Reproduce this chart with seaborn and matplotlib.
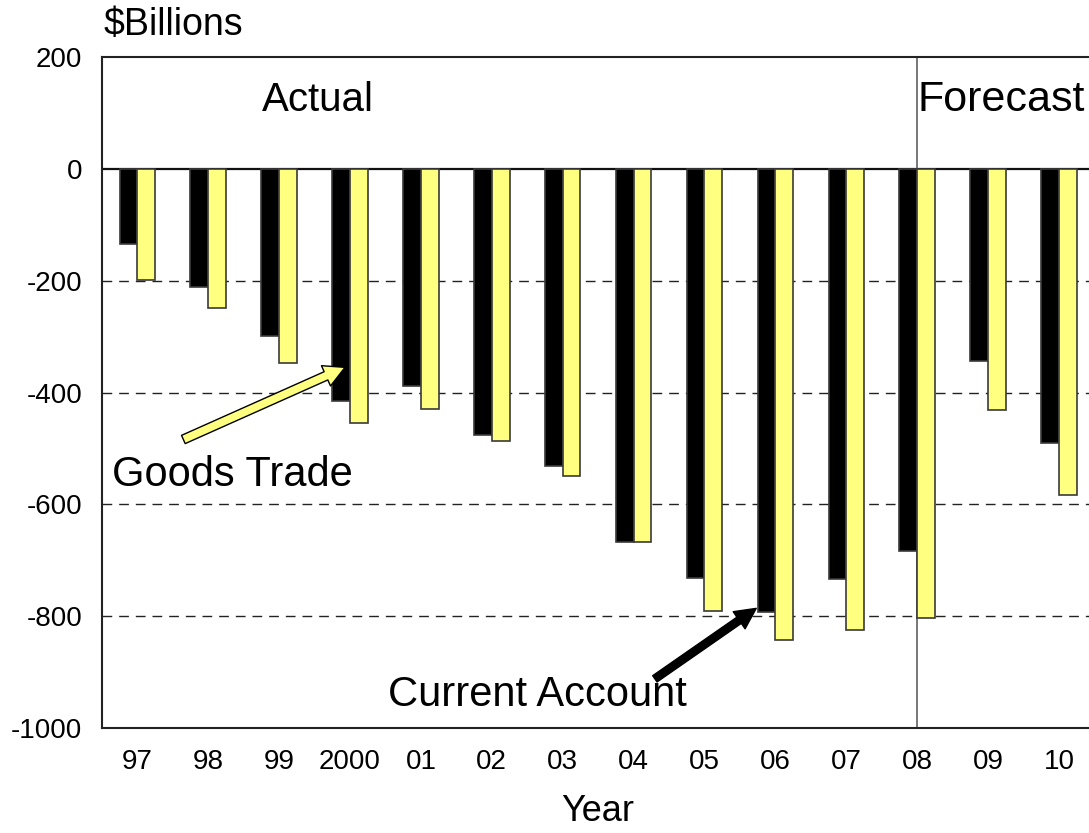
import numpy as np
import pandas as pd
import matplotlib
matplotlib.use("Agg")
import matplotlib.pyplot as plt
import seaborn as sns
from matplotlib import font_manager

years = ["97", "98", "99", "2000", "01", "02", "03", "04", "05", "06", "07", "08", "09", "10"]
current_account = [-135, -211, -299, -416, -388, -476, -531, -668, -732, -793, -734, -684, -343, -491]
goods_trade = [-199, -248, -348, -455, -430, -486, -550, -668, -791, -843, -824, -803, -432, -584]
series_names = ["Current Account", "Goods Trade"]
series_colors = ["#000000", "#FFFF80"]
y_ticks = [200, 0, -200, -400, -600, -800, -1000]

df = pd.DataFrame({
    "Year": years * 2,
    "Value": current_account + goods_trade,
    "Series": [series_names[0]] * len(years) + [series_names[1]] * len(years),
})

sns.set_style("white")
plt.rcParams["font.family"] = ["Liberation Sans", "DejaVu Sans"]
plt.rcParams["text.color"] = "black"
plt.rcParams["xtick.color"] = "black"
plt.rcParams["ytick.color"] = "black"
plt.rcParams["axes.labelcolor"] = "black"

installed = {f.name for f in font_manager.fontManager.ttflist}
narrow = "Liberation Sans Narrow" if "Liberation Sans Narrow" in installed else "Liberation Sans"

fig = plt.figure(figsize=(10.89, 8.33), dpi=100)
ax = fig.add_axes([0.0935, 0.126, 0.9115, 0.8056])

sns.barplot(data=df, x="Year", y="Value", hue="Series", order=years,
            hue_order=series_names, palette=series_colors, width=0.5, gap=0,
            saturation=1, edgecolor="#3a3a3a", linewidth=1.2, legend=False,
            ax=ax, zorder=3)

ax.set_xlim(-0.5, len(years) - 0.5)
ax.set_ylim(-1000, 200)
ax.set_yticks(y_ticks)
ax.set_yticklabels([str(v) for v in y_ticks], fontsize=20)
ax.tick_params(axis="y", length=0, pad=14)
ax.tick_params(axis="x", length=0, pad=15)
for lab in ax.get_xticklabels():
    lab.set_fontfamily([narrow, "DejaVu Sans"])
    lab.set_fontsize(22 if narrow != "Liberation Sans" else 20)
ax.set_xlabel("Year", fontsize=26, labelpad=14,
              fontfamily=[narrow, "DejaVu Sans"])
ax.set_ylabel("")

for v in [-200, -400, -600, -800]:
    ax.axhline(v, color="#222222", lw=1.0, ls=(0, (7, 5)), zorder=1)
ax.axhline(0, color="#111111", lw=1.6, zorder=2)
ax.axvline(11, color="#606060", lw=1.2, zorder=2)

for side in ["left", "bottom", "top"]:
    ax.spines[side].set_visible(True)
    ax.spines[side].set_color("#222222")
    ax.spines[side].set_linewidth(1.5)
ax.spines["right"].set_visible(False)

ax.text(2.55, 123, "Actual", fontsize=29, ha="center", va="center")
ax.text(11.0, 123, "Forecast", fontsize=31, ha="left", va="center")
ax.text(-0.36, -548, "Goods Trade", fontsize=30, ha="left", va="center")
ax.text(3.54, -941, "Current Account", fontsize=30, ha="left", va="center")
fig.text(104 / 1089, 1 - 25 / 833, "$Billions", fontsize=27, ha="left", va="center")

ax.annotate("", xy=(2.93, -355), xytext=(0.65, -484),
            arrowprops=dict(arrowstyle="simple,head_length=1.5,head_width=1.6,tail_width=0.65",
                            fc="#FFFF80", ec="#000000", lw=1.0, shrinkA=0, shrinkB=0),
            zorder=5)
ax.annotate("", xy=(8.73, -786), xytext=(7.3, -912),
            arrowprops=dict(arrowstyle="simple,head_length=1.5,head_width=1.5,tail_width=0.55",
                            fc="#000000", ec="#000000", lw=1.0, shrinkA=0, shrinkB=0),
            zorder=5)

fig.savefig("out.png", dpi=100)
